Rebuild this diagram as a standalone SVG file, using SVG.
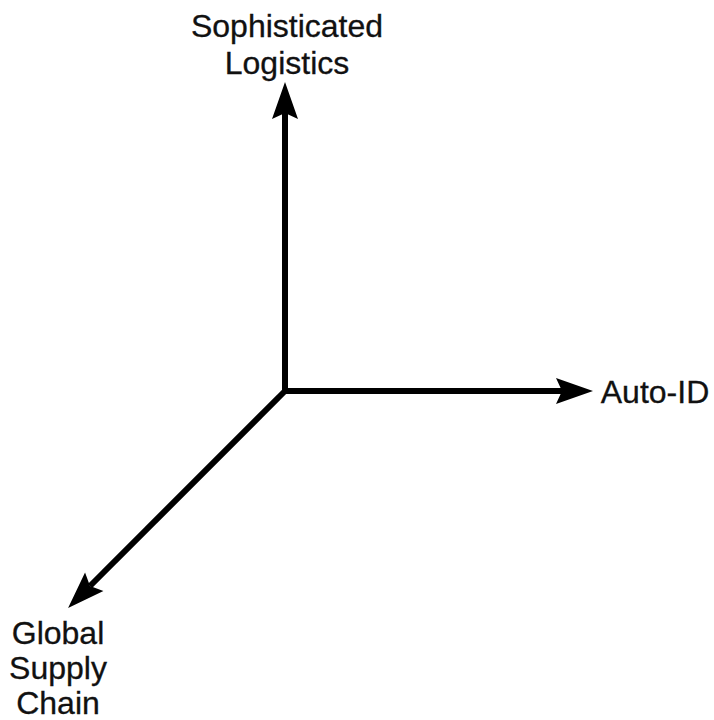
<svg xmlns="http://www.w3.org/2000/svg" width="714" height="720" viewBox="0 0 714 720">
<style>
.lbl{font-family:"Liberation Sans",Arial,sans-serif;font-size:32px;fill:#111;text-anchor:middle;stroke:#111;stroke-width:0.3}
.ax{stroke:#000;stroke-width:6;fill:none}
</style>
<defs>
<marker id="ah" markerUnits="userSpaceOnUse" viewBox="0 0 37 28" refX="6" refY="14" markerWidth="37" markerHeight="28" orient="auto" overflow="visible">
<path d="M0,1 L37,14 L0,27 L6,14 Z" fill="#000"/>
</marker>
</defs>
<rect width="714" height="720" fill="#fff"/>
<g id="connectors">
<line class="ax" x1="285" y1="394" x2="285" y2="113" marker-end="url(#ah)"/>
<line class="ax" x1="282" y1="391" x2="562" y2="391" marker-end="url(#ah)"/>
<line class="ax" x1="287" y1="389" x2="90" y2="586" marker-end="url(#ah)"/>
</g>
<g id="sophisticated-logistics">
<text class="lbl" x="287" y="37">Sophisticated</text>
<text class="lbl" x="287" y="74">Logistics</text>
</g>
<g id="auto-id">
<text class="lbl" x="655" y="403">Auto-ID</text>
</g>
<g id="global-supply-chain">
<text class="lbl" x="58" y="644">Global</text>
<text class="lbl" x="58" y="679">Supply</text>
<text class="lbl" x="58" y="714">Chain</text>
</g>
</svg>
